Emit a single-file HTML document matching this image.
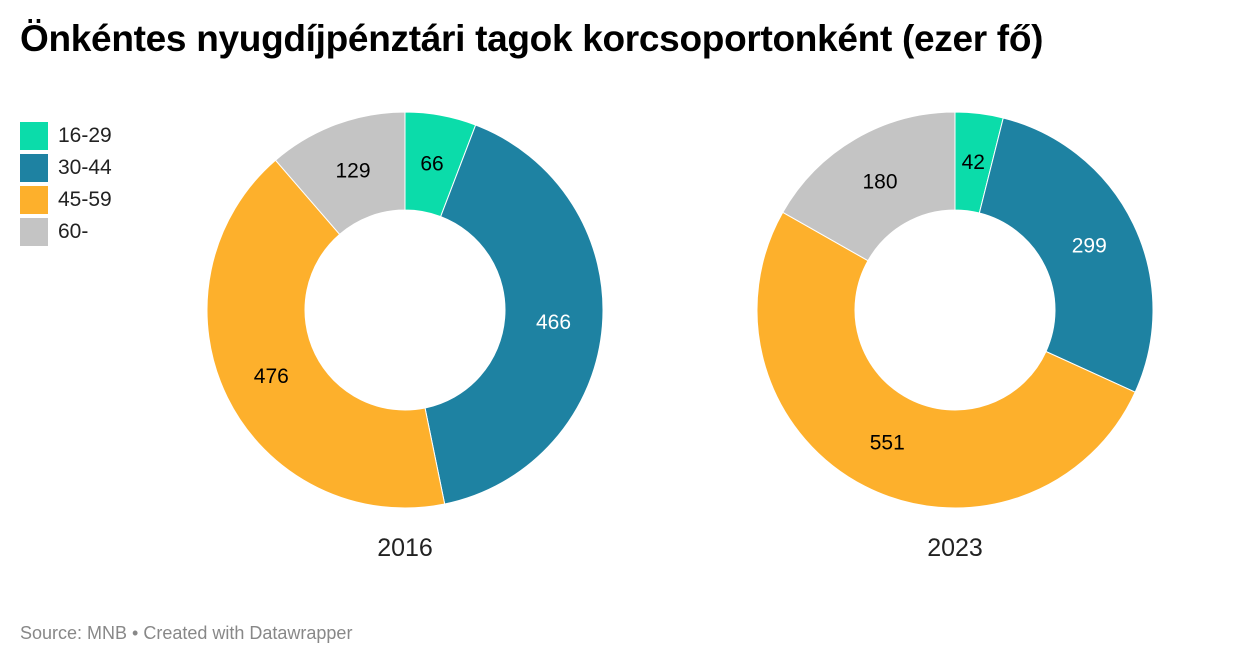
<!DOCTYPE html>
<html><head><meta charset="utf-8">
<style>
body{margin:0;background:#fff;font-family:"Liberation Sans",Arial,sans-serif;}
#wrap{position:relative;width:1240px;height:668px;overflow:hidden;}
h1{position:absolute;left:20px;top:18px;margin:0;font-size:37px;font-weight:bold;color:#000;letter-spacing:-0.3px;}
.leg{position:absolute;left:20px;display:flex;align-items:center;font-size:21px;color:#222;}
.sw{width:28px;height:28px;margin-right:10px;}
#src{position:absolute;left:20px;top:623px;font-size:18px;color:#888;}
svg{position:absolute;left:0;top:0;}
</style></head><body>
<div id="wrap">
<h1>Önkéntes nyugdíjpénztári tagok korcsoportonként (ezer fő)</h1>
<div class="leg" style="top:122px"><div class="sw" style="background:#0bdcaa"></div>16-29</div>
<div class="leg" style="top:154px"><div class="sw" style="background:#1e82a2"></div>30-44</div>
<div class="leg" style="top:186px"><div class="sw" style="background:#fdb02c"></div>45-59</div>
<div class="leg" style="top:218px"><div class="sw" style="background:#c4c4c4"></div>60-</div>
<svg id="svg" width="1240" height="668"></svg>
<div id="src">Source: MNB • Created with Datawrapper</div>
</div>
<script>
const categories=["16-29","30-44","45-59","60-"];
const years=["2016","2023"];
const values2016=[66,466,476,129];
const values2023=[42,299,551,180];
const colors=["#0bdcaa","#1e82a2","#fdb02c","#c4c4c4"];
const textColors=["#000","#fff","#000","#000"];
const svg=document.getElementById('svg');
const NS="http://www.w3.org/2000/svg";
function pt(cx,cy,r,a){return [cx+r*Math.sin(a),cy-r*Math.cos(a)];}
function donut(vals,cx,cy,year){
  const R=198,r=100,tot=vals.reduce((a,b)=>a+b,0);
  let a0=0;
  vals.forEach((v,i)=>{
    const a1=a0+v/tot*2*Math.PI,large=(a1-a0)>Math.PI?1:0;
    const p1=pt(cx,cy,R,a0),p2=pt(cx,cy,R,a1),p3=pt(cx,cy,r,a1),p4=pt(cx,cy,r,a0);
    const p=document.createElementNS(NS,'path');
    p.setAttribute('d',`M${p1}A${R},${R} 0 ${large} 1 ${p2}L${p3}A${r},${r} 0 ${large} 0 ${p4}Z`);
    p.setAttribute('fill',colors[i]);p.setAttribute('stroke','#fff');p.setAttribute('stroke-width','1');
    
    
    svg.appendChild(p);
    const m=(a0+a1)/2,lp=pt(cx,cy,149,m);
    const t=document.createElementNS(NS,'text');
    t.setAttribute('x',lp[0]);t.setAttribute('y',lp[1]+7);t.setAttribute('text-anchor','middle');
    t.setAttribute('font-size','21');t.setAttribute('fill',textColors[i]);
    t.setAttribute('font-family','Liberation Sans, Arial, sans-serif');
    t.textContent=v;
    
    
    svg.appendChild(t);
    a0=a1;
  });
  const y=document.createElementNS(NS,'text');
  y.setAttribute('x',cx);y.setAttribute('y',556);y.setAttribute('text-anchor','middle');
  y.setAttribute('font-size','25');y.setAttribute('fill','#222');
  y.setAttribute('font-family','Liberation Sans, Arial, sans-serif');
  y.textContent=year;
  
  
  svg.appendChild(y);
}
donut(values2016,405,310,years[0]);
donut(values2023,955,310,years[1]);
</script>
</body></html>
